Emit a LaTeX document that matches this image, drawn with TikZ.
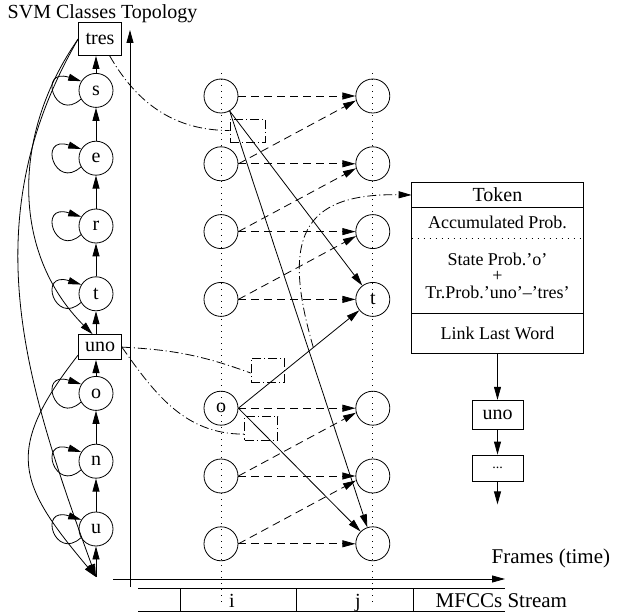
\documentclass[tikz,border=0pt]{standalone}
\usepackage{fontspec}
\setmainfont{Liberation Serif}
\usetikzlibrary{arrows.meta, positioning}
\newcommand{\SelfLoop}[1]{\draw[arrow] (#1.210) .. controls +(-26,-24) and +(-44,14) .. (#1.148);}

\begin{document}
\begin{tikzpicture}[
  x=1pt, y=1pt,
  font=\fontsize{20}{22}\selectfont,
  line width=0.8pt,
  arrow/.style={-{Triangle[length=13pt,width=7pt]}},
  state/.style={draw, circle, minimum size=34pt, inner sep=0pt},
  word/.style={draw, minimum width=43pt, inner sep=1pt, xshift=4pt},
  slot/.style={draw, circle, minimum size=34pt, inner sep=0pt},
  pass/.style={arrow, dash pattern=on 8pt off 5pt},
  guide/.style={dash pattern=on 1pt off 5pt},
  hop/.style={dash pattern=on 9pt off 3pt on 1pt off 3pt},
  tokenbox/.style={draw, hop, minimum width=33pt, minimum height=24pt},
  field/.style={minimum width=171pt, inner sep=0pt, font=\fontsize{18}{16.5}\selectfont},
  node distance=33pt
]
\useasboundingbox (0,-615) rectangle (622,0);

\node[anchor=base west] (title) at (4,-19) {SVM Classes Topology};

% word models, read bottom-up
\coordinate (start) at (96,-577);
\node[state] (u) at (96,-529) {u};
\node[state, above=of u] (n) {n};
\node[state, above=of n] (o) {o};
\node[word, minimum height=25pt, above=16pt of o] (uno) {uno};
\node[state, above=23pt of uno, xshift=-4pt] (t) {t};
\node[state, above=of t] (r) {r};
\node[state, above=of r] (e) {e};
\node[state, above=of e] (s) {s};
\node[word, minimum height=33pt, above=17pt of s] (tres) {tres};

\draw[arrow] (start) -- (u);
\draw[arrow] (u) -- (n);
\draw[arrow] (n) -- (o);
\draw[arrow] (o) -- (o |- uno.south);
\draw[arrow] (t |- uno.north) -- (t);
\draw[arrow] (t) -- (r);
\draw[arrow] (r) -- (e);
\draw[arrow] (e) -- (s);
\draw[arrow] (s) -- (s |- tres.south);

\SelfLoop{u}
\SelfLoop{n}
\SelfLoop{o}
\SelfLoop{t}
\SelfLoop{r}
\SelfLoop{e}
\SelfLoop{s}

\draw[arrow] (tres.west) to[out=235, in=135] (uno.120);
\draw[arrow] (tres.west) to[out=240, in=110] (start);
\draw[arrow] (uno.200) to[out=232, in=130, looseness=1.4] (start);

% axes and feature stream
\coordinate (ybot) at (130,-587);
\coordinate (ytop) at (130,-30);
\coordinate (xleft) at (113,-579);
\coordinate (xright) at (505,-579);
\draw[arrow] (ybot) -- (ytop);
\draw[arrow] (xleft) -- (xright);
\node[anchor=base west, font=\fontsize{21}{23}\selectfont] (frames) at (488,-563) {Frames (time)};

\draw (138,-588) -- (505,-588);
\draw (138,-611) -- (505,-611);
\draw (180,-588) -- (180,-611);
\draw (296,-588) -- (296,-611);
\draw (413,-588) -- (413,-611);
\node[anchor=base] (fi) at (232,-607) {i};
\node[anchor=base] (fj) at (358,-607) {j};
\node[anchor=base west, font=\fontsize{21}{23}\selectfont] (stream) at (432,-607) {MFCCs Stream};

% frames i and j
\node[slot] (i1) at (221,-96) {};
\node[slot, below=of i1] (i2) {};
\node[slot, below=of i2] (i3) {};
\node[slot, below=of i3] (i4) {};
\node[slot, below=74pt of i4] (i5) {o};
\node[slot, below=of i5] (i6) {};
\node[slot, below=of i6] (i7) {};
\node[slot, right=117pt of i1] (j1) {};
\node[slot, right=117pt of i2] (j2) {};
\node[slot, right=117pt of i3] (j3) {};
\node[slot, right=117pt of i4] (j4) {t};
\node[slot, right=117pt of i5] (j5) {};
\node[slot, right=117pt of i6] (j6) {};
\node[slot, right=117pt of i7] (j7) {};

\coordinate (gtop) at (0,-73);
\coordinate (gbot) at (0,-605);
\draw[guide] (i1 |- gtop) -- (i1 |- gbot);
\draw[guide] (j1 |- gtop) -- (j1 |- gbot);

\draw[pass] (i1) -- (j1);
\draw[pass] (i2) -- (j2);
\draw[pass] (i3) -- (j3);
\draw[pass] (i4) -- (j4);
\draw[pass] (i5) -- (j5);
\draw[pass] (i6) -- (j6);
\draw[pass] (i7) -- (j7);
\draw[pass] (i2.east) -- (j1.195);
\draw[pass] (i3.east) -- (j2.195);
\draw[pass] (i4.east) -- (j3.195);
\draw[pass] (i6.east) -- (j5.195);
\draw[pass] (i7.east) -- (j6.195);

\draw[arrow] (i1.-60) -- (j4);
\draw[arrow] (i1.-60) -- (j7);
\draw[arrow] (i5.east) -- coordinate[pos=0.62] (relay) (j4);
\draw[arrow] (i5.east) -- (j7);

% tokens on the transitions
\node[tokenbox, minimum width=35pt, minimum height=23pt] (tk1) at (247.5,-130.5) {};
\node[tokenbox] (tk2) at (267.5,-370) {};
\node[tokenbox] (tk3) at (261,-428) {};

\draw[hop] (tres.-60) to[out=-60, in=180] (tk1.west);
\draw[hop] (uno.east) to[out=-3, in=160] (tk2.190);
\draw[hop] (uno.east) to[out=-55, in=180] (tk3.200);

% token record
\node[field, minimum height=24pt, font=\fontsize{20}{22}\selectfont] (tkhead) at (497.5,-195) {Token};
\node[field, minimum height=30pt, below=0pt of tkhead] (tkacc) {Accumulated Prob.};
\node[field, minimum height=74pt, align=center, below=0pt of tkacc] (tkstate) {State Prob.'o'\\+\\Tr.Prob.'uno'--'tres'};
\node[field, minimum height=40pt, below=0pt of tkstate] (tklink) {Link Last Word};
\draw (tkhead.north west) rectangle (tklink.south east);
\draw (tkhead.south west) -- (tkhead.south east);
\draw[guide] (tkacc.south west) -- (tkacc.south east);
\draw (tklink.north west) -- (tklink.north east);

\draw[hop, arrow] (relay) .. controls (282,-240) and (300,-193) .. (tkhead.west);

\node[draw, minimum width=51pt, minimum height=29pt, below=46pt of tklink] (last) {uno};
\node[draw, minimum width=51pt, minimum height=26pt, font=\fontsize{14}{16}\selectfont, below=25pt of last] (more) {...};
\coordinate[below=23pt of more] (next);
\draw[arrow] (tklink) -- (last);
\draw[arrow] (last) -- (more);
\draw[arrow] (more) -- (next);
\end{tikzpicture}
\end{document}
